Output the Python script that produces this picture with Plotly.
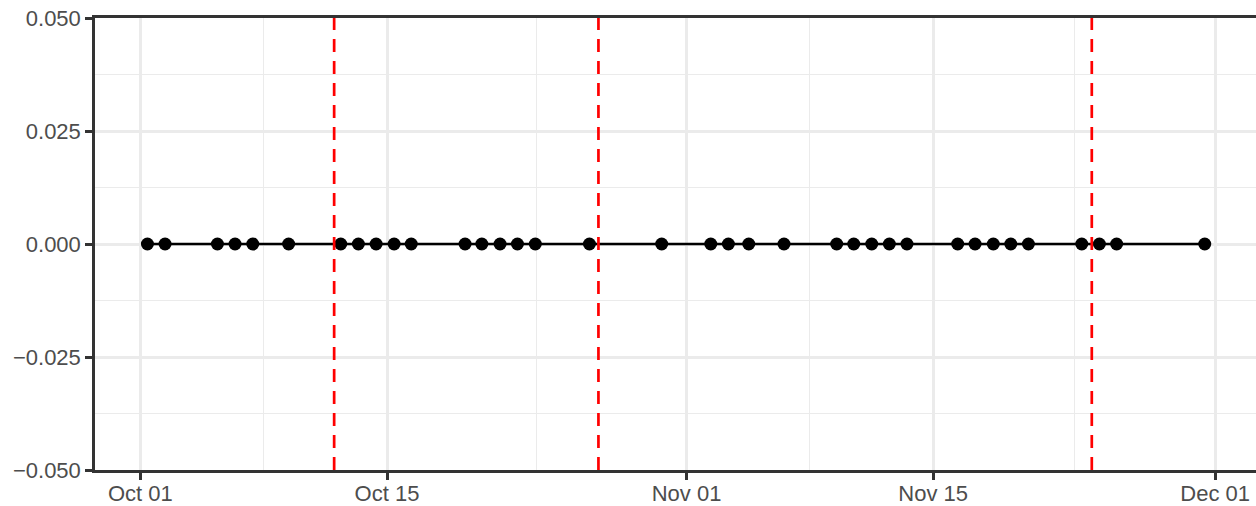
import plotly.graph_objects as go

# Data: observation timestamps (all values are 0)
dates = [
    "2023-10-01 09:40", "2023-10-02 09:40", "2023-10-05 09:00", "2023-10-06 09:00",
    "2023-10-07 09:10", "2023-10-09 10:00", "2023-10-12 09:00", "2023-10-13 09:00",
    "2023-10-14 09:10", "2023-10-15 09:40", "2023-10-16 09:00", "2023-10-19 10:20",
    "2023-10-20 09:10", "2023-10-21 10:00", "2023-10-22 09:40", "2023-10-23 10:00",
    "2023-10-26 11:45", "2023-10-30 14:10", "2023-11-02 09:00", "2023-11-03 09:00",
    "2023-11-04 12:45", "2023-11-06 12:45", "2023-11-09 12:30", "2023-11-10 11:45",
    "2023-11-11 12:15", "2023-11-12 12:15", "2023-11-13 12:15", "2023-11-16 09:20",
    "2023-11-17 09:00", "2023-11-18 09:50", "2023-11-19 09:40", "2023-11-20 09:40",
    "2023-11-23 10:20", "2023-11-24 10:20", "2023-11-25 09:50", "2023-11-30 09:50",
]
values = [0.0] * len(dates)

event_dates = ["2023-10-12", "2023-10-27", "2023-11-24"]

x_tick_vals = ["2023-10-01", "2023-10-15", "2023-11-01", "2023-11-15", "2023-12-01"]
x_tick_text = ["Oct 01", "Oct 15", "Nov 01", "Nov 15", "Dec 01"]
x_minor_vals = ["2023-10-08", "2023-10-23 12:00", "2023-11-08", "2023-11-23", "2023-12-08"]
y_tick_vals = [-0.05, -0.025, 0.0, 0.025, 0.05]
y_minor_vals = [-0.0375, -0.0125, 0.0125, 0.0375]

x_range = ["2023-09-28 10:15", "2023-12-03 07:40"]
y_range = [-0.05, 0.05]

fig = go.Figure()
fig.add_trace(go.Scatter(
    x=dates, y=values, mode="lines+markers",
    line=dict(color="black", width=2.5),
    marker=dict(color="black", size=13),
    showlegend=False,
))

for d in event_dates:
    fig.add_shape(type="line", xref="x", yref="paper", x0=d, x1=d, y0=0, y1=1,
                  line=dict(color="#FF0000", width=2.7, dash="13px,9px"), layer="above")

font_tick = dict(family="Liberation Sans, Arial, sans-serif", size=22, color="#4D4D4D")

fig.update_layout(
    width=1256, height=506,
    margin=dict(l=95, r=0, t=18, b=36),
    paper_bgcolor="white", plot_bgcolor="white",
    xaxis=dict(
        range=x_range, type="date", automargin=False,
        tickmode="array", tickvals=x_tick_vals, ticktext=x_tick_text,
        tickfont=font_tick, ticks="outside", ticklen=7, tickwidth=2.5, tickcolor="#333333",
        ticklabelstandoff=-5,
        showgrid=True, gridcolor="#EBEBEB", gridwidth=2.7,
        minor=dict(tickmode="array", tickvals=x_minor_vals, showgrid=True,
                   gridcolor="#EBEBEB", gridwidth=1.3, ticklen=0),
        showline=True, linecolor="#333333", linewidth=2.5, mirror=True,
        zeroline=False,
    ),
    yaxis=dict(
        range=y_range, automargin=False,
        tickmode="array", tickvals=y_tick_vals, tickformat=".3f",
        tickfont=font_tick, ticks="outside", ticklen=7, tickwidth=2.5, tickcolor="#333333",
        showgrid=True, gridcolor="#EBEBEB", gridwidth=2.7,
        minor=dict(tickmode="array", tickvals=y_minor_vals, showgrid=True,
                   gridcolor="#EBEBEB", gridwidth=1.3, ticklen=0),
        showline=True, linecolor="#333333", linewidth=2.5, mirror=False,
        zeroline=False,
    ),
)

fig.write_html(
    "out.html",
    config={"displayModeBar": False},
    post_script="document.body.style.margin='0';document.body.style.overflow='hidden';",
)
